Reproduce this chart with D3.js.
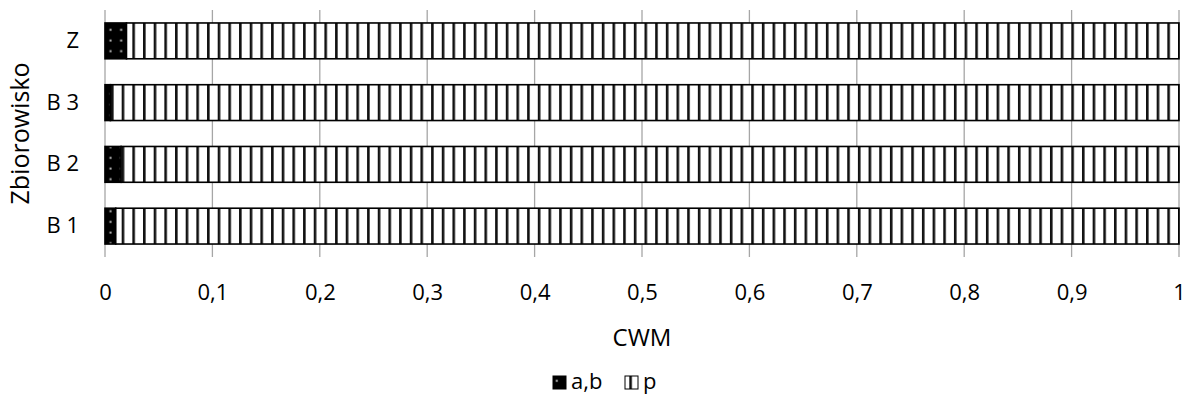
<!DOCTYPE html>
<html>
<head>
<meta charset="utf-8">
<script src="https://cdn.jsdelivr.net/npm/d3@7"></script>
<style>
  body { margin: 0; background: #fff; }
  svg { display: block; font-family: "Open Sans", "Liberation Sans", sans-serif; }
</style>
</head>
<body>
<svg id="chart" width="1187" height="405"></svg>
<script>
// Community-weighted means per site (stacked to 1)
const categories = ["B 1", "B 2", "B 3", "Z"];
const seriesNames = ["a,b", "p"];
const valuesAB = [0.010, 0.015, 0.005, 0.020];
const valuesP  = [0.990, 0.985, 0.995, 0.980];
const tickValues = [0, 0.1, 0.2, 0.3, 0.4, 0.5, 0.6, 0.7, 0.8, 0.9, 1];
const tickLabels = ["0", "0,1", "0,2", "0,3", "0,4", "0,5", "0,6", "0,7", "0,8", "0,9", "1"];

const svg = d3.select("#chart");
const margin = { left: 105, right: 8, top: 10, bottom: 148 };
const W = 1187, H = 405;

const x = d3.scaleLinear().domain([0, 1]).range([margin.left, W - margin.right]);
const y = d3.scaleBand().domain(categories.slice().reverse())
  .range([margin.top, H - margin.bottom]).paddingInner(0.42).paddingOuter(0.21);

// Fill patterns
const defs = svg.append("defs");
const pv = defs.append("pattern").attr("id", "pat-p").attr("patternUnits", "userSpaceOnUse")
  .attr("width", 10.67).attr("height", 10.67).attr("x", margin.left + 6);
pv.append("rect").attr("width", 10.67).attr("height", 10.67).attr("fill", "#fff");
pv.append("rect").attr("x", 0).attr("width", 2.6).attr("height", 10.67).attr("fill", "#111");

const pd = defs.append("pattern").attr("id", "pat-ab").attr("patternUnits", "userSpaceOnUse")
  .attr("width", 10.67).attr("height", 10.67).attr("x", margin.left).attr("y", 3);
pd.append("rect").attr("width", 10.67).attr("height", 10.67).attr("fill", "#000");
pd.append("rect").attr("x", 4.5).attr("y", 4.5).attr("width", 2).attr("height", 2).attr("fill", "#bbb");

// Gridlines
svg.append("g").selectAll("line").data(tickValues).join("line")
  .attr("x1", d => x(d)).attr("x2", d => x(d))
  .attr("y1", margin.top).attr("y2", H - margin.bottom)
  .attr("stroke", "#a6a6a6").attr("stroke-width", 1.3);

// Stacked bars
const rows = categories.map((c, i) => ({ cat: c, ab: valuesAB[i], p: valuesP[i] }));
const stack = d3.stack().keys(["ab", "p"])(rows);
const fills = { ab: "url(#pat-ab)", p: "url(#pat-p)" };

svg.append("g").selectAll("g").data(stack).join("g")
  .attr("fill", d => fills[d.key])
  .selectAll("rect").data(d => d).join("rect")
  .attr("x", d => x(d[0]))
  .attr("y", d => y(d.data.cat))
  .attr("width", d => x(d[1]) - x(d[0]))
  .attr("height", y.bandwidth())
  .attr("stroke", "#000").attr("stroke-width", 1.6);

// X axis labels
const xAxis = d3.axisBottom(x).tickValues(tickValues)
  .tickFormat((d, i) => tickLabels[i]).tickSize(0).tickPadding(0);
const gx = svg.append("g").attr("transform", `translate(0, ${H - margin.bottom + 35})`).call(xAxis);
gx.select(".domain").remove();
gx.selectAll("text").attr("font-size", 22).attr("fill", "#000")
  .attr("font-family", "'Open Sans', sans-serif").attr("dy", "0.35em");

// Y axis labels
const yAxis = d3.axisLeft(y).tickSize(0).tickPadding(0);
const gy = svg.append("g").attr("transform", `translate(${margin.left - 26}, 0)`).call(yAxis);
gy.select(".domain").remove();
gy.selectAll("text").attr("font-size", 22).attr("fill", "#000")
  .attr("font-family", "'Open Sans', sans-serif");

// Axis titles
svg.append("text").attr("x", (x(0) + x(1)) / 2).attr("y", 340)
  .attr("text-anchor", "middle").attr("dominant-baseline", "middle")
  .attr("font-size", 24).text("CWM");
svg.append("text").attr("transform", `translate(22, ${(margin.top + H - margin.bottom) / 2}) rotate(-90)`)
  .attr("text-anchor", "middle").attr("dominant-baseline", "middle")
  .attr("font-size", 25).text("Zbiorowisko");

// Legend
const legend = svg.append("g").attr("transform", "translate(553, 383)");
const items = [{ name: seriesNames[0], fill: fills.ab, x: 0 }, { name: seriesNames[1], fill: fills.p, x: 72 }];
const li = legend.selectAll("g").data(items).join("g").attr("transform", d => `translate(${d.x},0)`);
li.append("rect").attr("x", 0).attr("y", -7).attr("width", 13).attr("height", 13)
  .attr("fill", d => d.fill).attr("stroke", "#000").attr("stroke-width", 1);
li.append("text").attr("x", 18).attr("y", 0).attr("dominant-baseline", "middle")
  .attr("font-size", 22).text(d => d.name);
</script>
</body>
</html>
